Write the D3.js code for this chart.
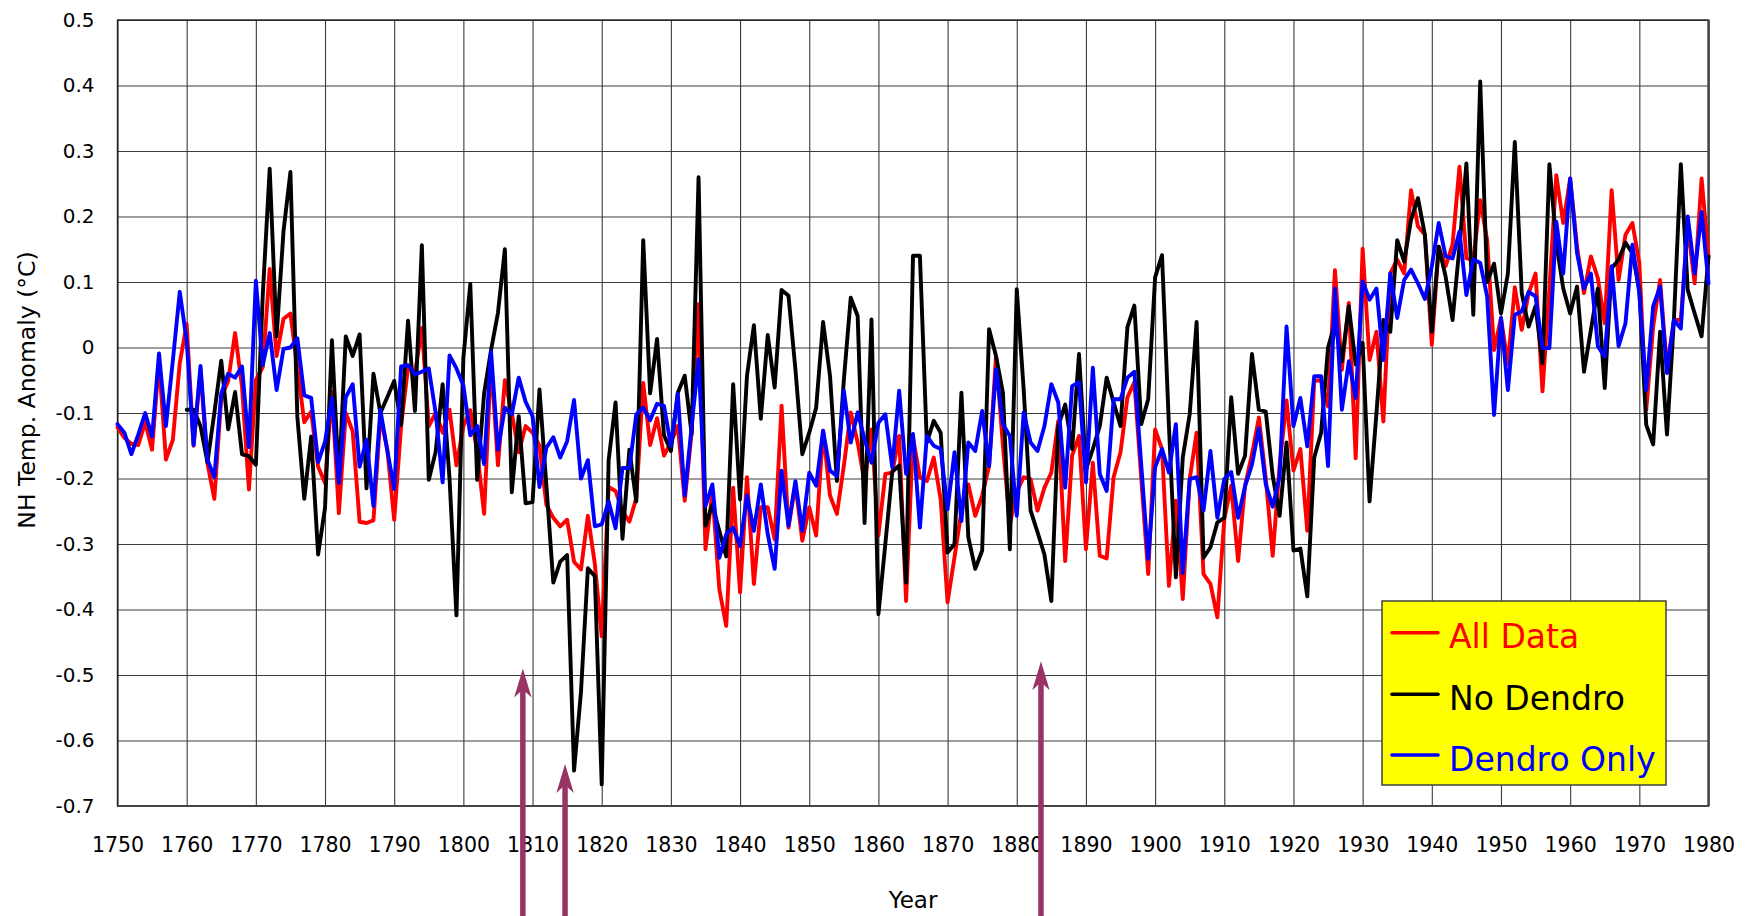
<!DOCTYPE html>
<html><head><meta charset="utf-8">
<script src="https://cdn.jsdelivr.net/npm/d3@7"></script>
<style>
html,body{margin:0;padding:0;background:#fff;}
svg{display:block;}
</style></head><body>
<svg id="chart" width="1752" height="916"></svg>
<script>
// ---------- DATA ----------
const years = d3.range(1750, 1981);

const allData = [
-0.122,-0.138,-0.147,-0.149,-0.114,-0.156,-0.02,-0.171,-0.141,-0.024,
0.036,-0.15,-0.035,-0.177,-0.231,-0.076,-0.051,0.022,-0.06,-0.217,
-0.05,-0.03,0.12,-0.013,0.044,0.052,-0.03,-0.114,-0.098,-0.182,
-0.207,-0.068,-0.253,-0.1,-0.128,-0.266,-0.268,-0.264,-0.106,-0.155,
-0.263,-0.12,-0.03,-0.04,0.03,-0.12,-0.1,-0.13,-0.095,-0.18,
-0.12,-0.096,-0.16,-0.254,-0.02,-0.18,-0.05,-0.1,-0.16,-0.12,
-0.13,-0.15,-0.24,-0.26,-0.273,-0.263,-0.327,-0.339,-0.257,-0.33,
-0.441,-0.213,-0.219,-0.25,-0.266,-0.23,-0.054,-0.149,-0.108,-0.165,
-0.145,-0.12,-0.234,-0.13,0.066,-0.308,-0.221,-0.369,-0.425,-0.214,
-0.374,-0.198,-0.361,-0.244,-0.244,-0.293,-0.089,-0.275,-0.209,-0.295,
-0.244,-0.287,-0.127,-0.226,-0.254,-0.181,-0.099,-0.145,-0.206,-0.125,
-0.287,-0.193,-0.191,-0.135,-0.387,-0.137,-0.198,-0.204,-0.168,-0.232,
-0.389,-0.32,-0.25,-0.209,-0.257,-0.226,-0.181,-0.013,-0.15,-0.27,
-0.22,-0.198,-0.201,-0.249,-0.214,-0.191,-0.112,-0.326,-0.165,-0.135,
-0.308,-0.176,-0.318,-0.322,-0.198,-0.16,-0.076,-0.053,-0.2,-0.346,
-0.125,-0.155,-0.364,-0.234,-0.384,-0.201,-0.13,-0.346,-0.361,-0.412,
-0.262,-0.211,-0.326,-0.211,-0.163,-0.107,-0.2,-0.318,-0.18,-0.081,
-0.188,-0.155,-0.28,-0.051,-0.05,-0.09,0.118,-0.034,0.068,-0.169,
0.151,-0.019,0.024,-0.113,0.113,0.134,0.113,0.24,0.185,0.172,
0.004,0.154,0.124,0.157,0.276,0.136,0.134,0.225,0.164,-0.004,
0.045,-0.025,0.092,0.027,0.083,0.113,-0.067,0.09,0.263,0.19,
0.258,0.154,0.083,0.139,0.106,0.037,0.24,0.103,0.172,0.19,
0.129,-0.095,0.032,0.103,-0.032,0.042,0.042,0.185,0.098,0.258,
0.139];

const noDendro = [
null,null,null,null,null,null,null,null,null,null,
-0.095,-0.095,-0.12,-0.175,-0.10,-0.02,-0.125,-0.068,-0.163,-0.166,
-0.179,0.08,0.273,0.017,0.178,0.268,-0.106,-0.231,-0.136,-0.316,
-0.245,0.011,-0.204,0.017,-0.013,0.02,-0.215,-0.04,-0.1,-0.076,
-0.051,-0.118,0.041,-0.097,0.156,-0.202,-0.159,-0.056,-0.2,-0.409,
-0.016,0.097,-0.202,-0.07,-0.004,0.053,0.15,-0.221,-0.105,-0.238,
-0.236,-0.064,-0.21,-0.359,-0.327,-0.317,-0.646,-0.526,-0.337,-0.349,
-0.667,-0.172,-0.084,-0.292,-0.156,-0.235,0.164,-0.07,0.013,-0.134,
-0.158,-0.069,-0.043,-0.132,0.26,-0.272,-0.24,-0.28,-0.319,-0.056,
-0.232,-0.043,0.034,-0.109,0.019,-0.061,0.088,0.079,-0.033,-0.163,
-0.13,-0.092,0.039,-0.043,-0.204,-0.05,0.076,0.048,-0.268,0.043,
-0.407,-0.3,-0.19,-0.18,-0.359,0.14,0.14,-0.145,-0.112,-0.13,
-0.313,-0.3,-0.069,-0.29,-0.338,-0.31,0.028,-0.013,-0.069,-0.308,
0.089,-0.064,-0.249,-0.282,-0.316,-0.387,-0.12,-0.087,-0.155,-0.01,
-0.186,-0.155,-0.12,-0.046,-0.084,-0.12,0.031,0.064,-0.117,-0.079,
0.107,0.141,-0.12,-0.351,-0.168,-0.102,0.039,-0.321,-0.305,-0.267,
-0.26,-0.076,-0.193,-0.165,-0.01,-0.095,-0.098,-0.196,-0.257,-0.145,
-0.31,-0.307,-0.38,-0.168,-0.13,0.0,0.037,-0.021,0.063,-0.026,
0.007,-0.235,-0.1,0.042,0.024,0.164,0.131,0.195,0.228,0.172,
0.024,0.154,0.108,0.042,0.154,0.281,0.05,0.406,0.1,0.128,
0.052,0.113,0.314,0.083,0.032,0.063,-0.024,0.28,0.16,0.09,
0.052,0.093,-0.037,0.027,0.09,-0.062,0.121,0.134,0.16,0.144,
0.088,-0.118,-0.148,0.024,-0.133,0.042,0.28,0.088,0.052,0.017,
0.139];

const dendroOnly = [
-0.117,-0.13,-0.163,-0.133,-0.1,-0.136,-0.009,-0.12,-0.02,0.085,
0.01,-0.149,-0.028,-0.171,-0.198,-0.07,-0.04,-0.046,-0.029,-0.152,
0.102,-0.027,0.022,-0.065,-0.002,0.0,0.014,-0.073,-0.077,-0.175,
-0.144,-0.077,-0.207,-0.076,-0.056,-0.182,-0.141,-0.242,-0.095,-0.157,
-0.216,-0.029,-0.027,-0.041,-0.037,-0.032,-0.1,-0.206,-0.012,-0.032,
-0.058,-0.134,-0.12,-0.178,-0.006,-0.156,-0.092,-0.102,-0.046,-0.083,
-0.105,-0.213,-0.153,-0.137,-0.168,-0.143,-0.08,-0.2,-0.172,-0.273,
-0.27,-0.235,-0.276,-0.184,-0.184,-0.102,-0.092,-0.111,-0.086,-0.089,
-0.15,-0.071,-0.226,-0.12,-0.018,-0.242,-0.209,-0.321,-0.285,-0.275,
-0.303,-0.226,-0.28,-0.209,-0.285,-0.338,-0.188,-0.272,-0.204,-0.28,
-0.191,-0.211,-0.127,-0.188,-0.196,-0.066,-0.145,-0.099,-0.14,-0.176,
-0.115,-0.102,-0.183,-0.066,-0.193,-0.132,-0.275,-0.135,-0.15,-0.155,
-0.247,-0.16,-0.265,-0.145,-0.158,-0.097,-0.181,-0.033,-0.117,-0.135,
-0.257,-0.099,-0.145,-0.158,-0.12,-0.056,-0.084,-0.214,-0.059,-0.053,
-0.206,-0.031,-0.193,-0.219,-0.079,-0.079,-0.046,-0.037,-0.18,-0.323,
-0.183,-0.155,-0.191,-0.117,-0.344,-0.201,-0.198,-0.249,-0.158,-0.26,
-0.201,-0.19,-0.26,-0.212,-0.179,-0.123,-0.209,-0.243,-0.197,0.032,
-0.12,-0.077,-0.151,-0.044,-0.044,-0.181,0.09,-0.095,-0.021,-0.077,
0.101,0.073,0.09,-0.019,0.113,0.045,0.103,0.119,0.098,0.074,
0.124,0.19,0.139,0.136,0.177,0.08,0.135,0.129,0.078,-0.103,
0.045,-0.065,0.05,0.055,0.085,0.078,-0.001,-0.001,0.192,0.113,
0.258,0.144,0.09,0.113,0.002,-0.014,0.124,0.002,0.037,0.157,
0.083,-0.065,0.063,0.093,-0.039,0.042,0.029,0.2,0.113,0.207,
0.098];

const xTicks = [1750,1760,1770,1780,1790,1800,1810,1820,1830,1840,1850,1860,1870,1880,1890,1900,1910,1920,1930,1940,1950,1960,1970,1980];
const yTicks = [0.5,0.4,0.3,0.2,0.1,0,-0.1,-0.2,-0.3,-0.4,-0.5,-0.6,-0.7];
const seriesNames = ["All Data", "No Dendro", "Dendro Only"];
const seriesColors = ["#ff0000", "#000000", "#0000ff"];
const arrowYears = [1808.6, 1814.7, 1883.5];
const arrowTips = [-0.49, -0.636, -0.479];
const xTitle = "Year";
const yTitle = "NH Temp. Anomaly (°C)";

// ---------- LAYOUT ----------
const W = 1752, H = 916;
const L = 117.5, R = 1708.5, T = 20, B = 806;
const FONT = "'DejaVu Sans', Verdana, sans-serif";
const svg = d3.select("#chart");

const x = d3.scaleLinear().domain([1750, 1980]).range([L, R]);
const y = d3.scaleLinear().domain([-0.7, 0.5]).range([B, T]);

svg.append("rect").attr("x",0).attr("y",0).attr("width",W).attr("height",H).attr("fill","#fff");

// y grid + labels
const gy = svg.append("g").attr("transform", `translate(${L},0)`)
  .call(d3.axisLeft(y).tickValues(yTicks).tickSize(-(R - L)).tickPadding(23)
    .tickFormat(d => d === 0 ? "0" : d.toFixed(1)));
gy.select(".domain").remove();
gy.selectAll(".tick line").attr("stroke", "#3c3c3c").attr("stroke-width", 1.1);
gy.selectAll(".tick text").attr("font-family", FONT).attr("font-size", 20).attr("fill", "#000");

// x grid + labels
const gx = svg.append("g").attr("transform", `translate(0,${B})`)
  .call(d3.axisBottom(x).tickValues(xTicks).tickSize(-(B - T)).tickFormat(d3.format("d")));
gx.select(".domain").remove();
gx.selectAll(".tick line").attr("stroke", "#3c3c3c").attr("stroke-width", 1.1);
gx.selectAll(".tick text").attr("font-family", FONT).attr("font-size", 20.5)
  .attr("fill", "#000").attr("y", 46).attr("dy", 0);

// frame
svg.append("rect").attr("x", L).attr("y", T).attr("width", R - L).attr("height", B - T)
  .attr("fill", "none").attr("stroke", "#222").attr("stroke-width", 1.4);
svg.append("line").attr("x1", L).attr("x2", R).attr("y1", B).attr("y2", B)
  .attr("stroke", "#444").attr("stroke-width", 2.2);
svg.append("line").attr("x1", R).attr("x2", R).attr("y1", T).attr("y2", B)
  .attr("stroke", "#444").attr("stroke-width", 2.2);

// series
const seriesValues = [allData, noDendro, dendroOnly];
const line = d3.line()
  .defined(d => d.v !== null)
  .x(d => x(d.year)).y(d => y(d.v));
seriesValues.forEach((vals, i) => {
  const pts = years.map((yr, k) => ({year: yr, v: vals[k]}));
  svg.append("path").datum(pts)
    .attr("d", line).attr("fill", "none")
    .attr("stroke", seriesColors[i]).attr("stroke-width", 3.9)
    .attr("stroke-linejoin", "round").attr("stroke-linecap", "round");
});

// axis titles
svg.append("text").attr("x", (L + R) / 2).attr("y", 908).attr("text-anchor", "middle")
  .attr("font-family", FONT).attr("font-size", 23).attr("fill", "#000").text(xTitle);
svg.append("text").attr("transform", "translate(35,390) rotate(-90)").attr("text-anchor", "middle")
  .attr("font-family", FONT).attr("font-size", 23.5).attr("fill", "#000").text(yTitle);

// legend
const lg = svg.append("g");
lg.append("rect").attr("x", 1382).attr("y", 601).attr("width", 284).attr("height", 184)
  .attr("fill", "#ffff00").attr("stroke", "#404040").attr("stroke-width", 1.5);
const legendY = [632.7, 694.3, 755];
seriesNames.forEach((name, i) => {
  lg.append("line").attr("x1", 1392).attr("x2", 1438).attr("y1", legendY[i]).attr("y2", legendY[i])
    .attr("stroke", seriesColors[i]).attr("stroke-width", 3.6).attr("stroke-linecap", "round");
  lg.append("text").attr("x", 1449).attr("y", legendY[i] + 15.6)
    .attr("font-family", FONT).attr("font-size", 33).attr("fill", seriesColors[i]).text(name);
});

// arrows
const arrowColor = "#993366";
arrowYears.forEach((yr, i) => {
  const ax = x(yr), ty = y(arrowTips[i]);
  svg.append("line").attr("x1", ax).attr("x2", ax).attr("y1", ty + 18).attr("y2", H + 5)
    .attr("stroke", arrowColor).attr("stroke-width", 5.5);
  svg.append("path")
    .attr("d", `M${ax},${ty} L${ax + 8.7},${ty + 29} L${ax},${ty + 21} L${ax - 8.7},${ty + 29} Z`)
    .attr("fill", arrowColor);
});
</script>
</body></html>
